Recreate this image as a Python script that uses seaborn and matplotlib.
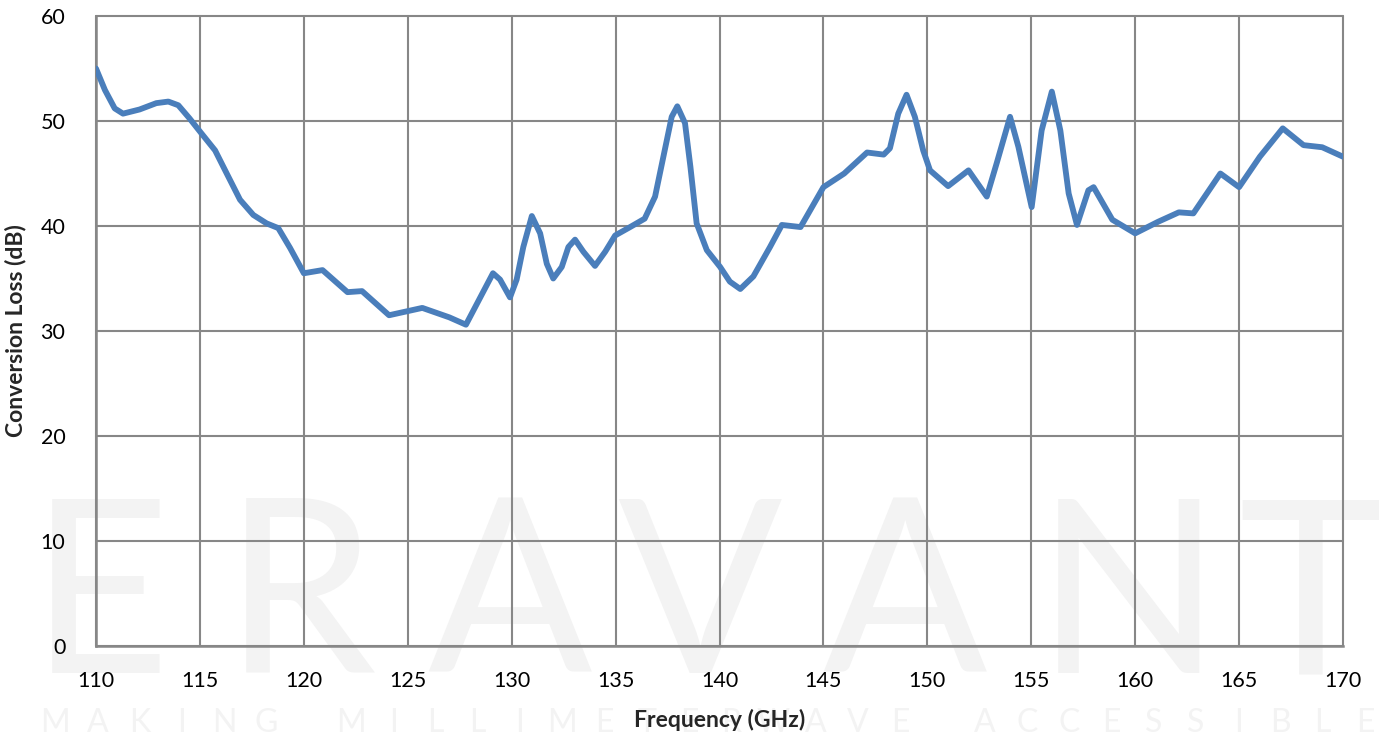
import numpy as np
import pandas as pd
import matplotlib
matplotlib.use("Agg")
import matplotlib.pyplot as plt
import seaborn as sns
from matplotlib.ticker import MultipleLocator

# Datos (frecuencia en GHz, pérdida de conversión en dB)
freq_ghz = [110.0, 110.43, 110.9, 111.3, 112.1, 112.9, 113.48, 113.96, 114.5, 115.0,
            115.73, 116.29, 116.93, 117.57, 118.21, 118.77, 119.34, 120.0, 120.9, 122.1,
            122.8, 124.1, 125.7, 127.0, 127.8, 129.1, 129.44, 129.92, 130.24, 130.56,
            130.97, 131.37, 131.69, 132.0, 132.41, 132.73, 133.05, 133.45, 134.01, 134.5,
            134.98, 135.7, 136.4, 136.9, 137.3, 137.7, 137.97, 138.34, 138.6, 138.9,
            139.39, 140.03, 140.5, 141.0, 141.63, 142.43, 143.0, 143.9, 145.0, 146.0,
            147.1, 147.9, 148.2, 148.6, 149.0, 149.4, 149.8, 150.13, 151.0, 151.98,
            152.86, 153.34, 153.98, 154.38, 155.02, 155.5, 155.99, 156.4, 156.8, 157.2,
            157.75, 158.0, 158.9, 160.0, 161.1, 162.1, 162.8, 164.1, 165.0, 166.0,
            167.1, 168.1, 169.0, 170.0]
loss_db = [55.0, 52.95, 51.2, 50.7, 51.1, 51.7, 51.85, 51.5, 50.25, 49.0,
           47.2, 45.0, 42.5, 41.05, 40.25, 39.8, 37.9, 35.5, 35.8, 33.7,
           33.8, 31.5, 32.2, 31.3, 30.6, 35.5, 34.9, 33.2, 34.9, 38.0,
           40.95, 39.3, 36.4, 35.0, 36.1, 38.0, 38.7, 37.55, 36.2, 37.55,
           39.1, 39.9, 40.7, 42.8, 46.6, 50.4, 51.4, 49.8, 45.65, 40.25,
           37.7, 36.1, 34.7, 34.0, 35.2, 38.0, 40.1, 39.9, 43.7, 45.0,
           47.0, 46.8, 47.4, 50.7, 52.5, 50.4, 47.2, 45.3, 43.8, 45.3,
           42.8, 46.0, 50.4, 47.55, 41.8, 49.1, 52.8, 49.1, 43.1, 40.1,
           43.4, 43.7, 40.6, 39.3, 40.4, 41.3, 41.2, 45.0, 43.7, 46.6,
           49.3, 47.7, 47.5, 46.6]

x_ticks = [110, 115, 120, 125, 130, 135, 140, 145, 150, 155, 160, 165, 170]
y_ticks = [0, 10, 20, 30, 40, 50, 60]

df = pd.DataFrame({"Frecuencia": freq_ghz, "Perdida": loss_db})

sns.set_style("white")
plt.rcParams["font.family"] = ["Lato", "DejaVu Sans"]

fig = plt.figure(figsize=(13.82, 7.38), dpi=100)
ax = fig.add_axes([96 / 1382, 1 - 646 / 738, (1343 - 96) / 1382, (646 - 16) / 738])
ax.set_facecolor("none")

# Marca de agua tenue
letras = ["E", "R", "A", "V", "A", "N", "T"]
centros = [100, 300, 510, 700, 905, 1128, 1310]
for letra, cx in zip(letras, centros):
    fig.text(cx / 1382, 1 - 673 / 738, letra, ha="center", va="baseline",
             fontsize=175, color="#f3f3f3", zorder=-5)
lema = "MAKING MILLIMETERWAVE ACCESSIBLE"
for i, ch in enumerate(lema):
    px = 55 + i * (1365 - 55) / (len(lema) - 1)
    fig.text(px / 1382, 1 - 708 / 738, ch, ha="center", va="top",
             fontsize=23, color="#f3f3f3", zorder=-5)

gris = "#878787"
sns.lineplot(data=df, x="Frecuencia", y="Perdida", ax=ax, color="#4a7ebb",
             linewidth=4.2, sort=False, zorder=3)
ax.lines[0].set_solid_joinstyle("round")
ax.lines[0].set_solid_capstyle("round")

ax.set_xlim(110, 170)
ax.set_ylim(0, 60)
ax.set_xticks(x_ticks)
ax.set_yticks(y_ticks)
ax.xaxis.set_minor_locator(MultipleLocator(1))
ax.yaxis.set_minor_locator(MultipleLocator(2))
ax.grid(True, which="major", color=gris, linewidth=1.5)
for gl in ax.get_xgridlines() + ax.get_ygridlines():
    gl.set_clip_on(False)

for lado in ["top", "right"]:
    ax.spines[lado].set_visible(False)
for lado in ["left", "bottom"]:
    ax.spines[lado].set_color(gris)
    ax.spines[lado].set_linewidth(1.8)

ax.tick_params(axis="both", which="major", length=0, labelsize=15.5,
               labelcolor="black")
ax.tick_params(axis="x", which="major", pad=18)
ax.tick_params(axis="y", which="major", pad=22)
ax.tick_params(axis="both", which="minor", direction="in", length=5,
               width=1.5, color=gris)

ax.set_xlabel("Frequency (GHz)", fontsize=16.5, fontweight="bold", labelpad=13)
ax.set_ylabel("Conversion Loss (dB)", fontsize=16.5, fontweight="bold", labelpad=10)

fig.savefig("out.png", dpi=100)
